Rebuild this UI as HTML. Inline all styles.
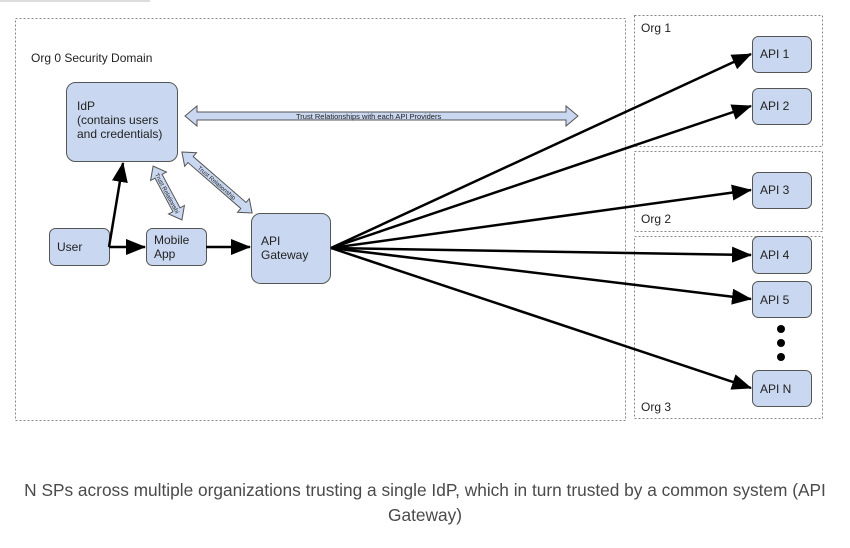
<!DOCTYPE html>
<html><head><meta charset="utf-8"><style>
html,body{margin:0;padding:0;background:#fff;width:850px;height:548px;overflow:hidden}
svg{display:block}
.cap{position:absolute;left:0;width:850px;top:478px;text-align:center;font-family:"Liberation Sans",sans-serif;font-size:17.3px;line-height:25px;color:#4a4a4a}
</style></head><body>
<svg width="850" height="548" viewBox="0 0 850 548" style="position:absolute;left:0;top:0">
<defs>
<marker id="ahb" viewBox="0 0 20 16" markerWidth="20" markerHeight="16" refX="19" refY="8" orient="auto" markerUnits="userSpaceOnUse"><path d="M0,0 L20,8 L0,16 Z" fill="#000"/></marker>
</defs>
<rect x="0" y="0" width="150" height="2" fill="#ddd"/>
<g fill="none" stroke="#888" stroke-width="1" stroke-dasharray="2,2">
<rect x="15.5" y="18.5" width="610" height="402"/>
<rect x="634.5" y="15.5" width="188" height="131"/>
<rect x="634.5" y="151.5" width="188" height="80"/>
<rect x="634.5" y="236.5" width="188" height="182"/>
</g>
<g font-family="Liberation Sans,sans-serif" font-size="12" fill="#222">
<text x="31" y="62">Org 0 Security Domain</text>
<text x="641" y="32">Org 1</text>
<text x="641" y="223">Org 2</text>
<text x="641" y="411">Org 3</text>
</g>
<g fill="#c9d8f0" stroke="#555" stroke-width="1">
<rect x="66.5" y="82.5" width="111" height="79" rx="9"/>
<rect x="49.5" y="228.5" width="60" height="37" rx="6"/>
<rect x="146.5" y="228.5" width="60" height="37" rx="6"/>
<rect x="251.5" y="213.5" width="79" height="70" rx="9"/>
<rect x="752.5" y="36.5" width="59" height="36" rx="6"/>
<rect x="752.5" y="88.5" width="59" height="36" rx="6"/>
<rect x="752.5" y="172.5" width="59" height="36" rx="6"/>
<rect x="752.5" y="236.5" width="59" height="37" rx="6"/>
<rect x="752.5" y="281.5" width="59" height="36" rx="6"/>
<rect x="752.5" y="370.5" width="59" height="36" rx="6"/>
<path d="M185,116 L197,106 L197,112 L566,112 L566,106 L578,116 L566,126 L566,120 L197,120 L197,126 Z"/>
<g transform="translate(167.5,193) rotate(61.8)"><path d="M-30.5,0 L-19,-9 L-19,-4 L19,-4 L19,-9 L30.5,0 L19,9 L19,4 L-19,4 L-19,9 Z"/></g>
<g transform="translate(217,182.5) rotate(41)"><path d="M-46.5,0 L-35,-9 L-35,-4 L35,-4 L35,-9 L46.5,0 L35,9 L35,4 L-35,4 L-35,9 Z"/></g>
</g>
<g font-family="Liberation Sans,sans-serif" fill="#222">
<text x="296" y="119" font-size="7.5">Trust Relationships with each API Providers</text>
<g transform="translate(217,182.5) rotate(41)"><text x="0" y="2.5" font-size="6" text-anchor="middle">Trust Relationship</text></g>
<g transform="translate(167.5,193) rotate(61.8)"><text x="0" y="2.5" font-size="6" text-anchor="middle">Trust Relationshi</text></g>
<g font-size="12">
<text x="77" y="110">IdP</text>
<text x="77" y="124">(contains users</text>
<text x="77" y="138">and credentials)</text>
<text x="57" y="251">User</text>
<text x="154" y="244">Mobile</text>
<text x="154" y="258">App</text>
<text x="261" y="245">API</text>
<text x="261" y="259">Gateway</text>
<text x="760" y="58">API 1</text>
<text x="760" y="110">API 2</text>
<text x="760" y="194">API 3</text>
<text x="760" y="259">API 4</text>
<text x="760" y="304">API 5</text>
<text x="760" y="393">API N</text>
</g>
</g>
<g stroke="#000" stroke-width="2.5" fill="none">
<polyline points="109,247 123,163" marker-end="url(#ahb)"/>
<line x1="109" y1="247" x2="145" y2="247" marker-end="url(#ahb)"/>
<line x1="206" y1="247" x2="250" y2="247" marker-end="url(#ahb)"/>
<line x1="331" y1="248" x2="751" y2="54" marker-end="url(#ahb)"/>
<line x1="331" y1="248" x2="751" y2="106" marker-end="url(#ahb)"/>
<line x1="331" y1="248" x2="751" y2="190" marker-end="url(#ahb)"/>
<line x1="331" y1="248" x2="751" y2="255" marker-end="url(#ahb)"/>
<line x1="331" y1="248" x2="751" y2="299" marker-end="url(#ahb)"/>
<line x1="331" y1="248" x2="751" y2="388" marker-end="url(#ahb)"/>
</g>
<g fill="#000"><circle cx="781" cy="329" r="4"/><circle cx="781" cy="343" r="4"/><circle cx="781" cy="357" r="4"/></g>
</svg>
<div class="cap">N SPs across multiple organizations trusting a single IdP, which in turn trusted by a common system (API<br>Gateway)</div>
</body></html>
